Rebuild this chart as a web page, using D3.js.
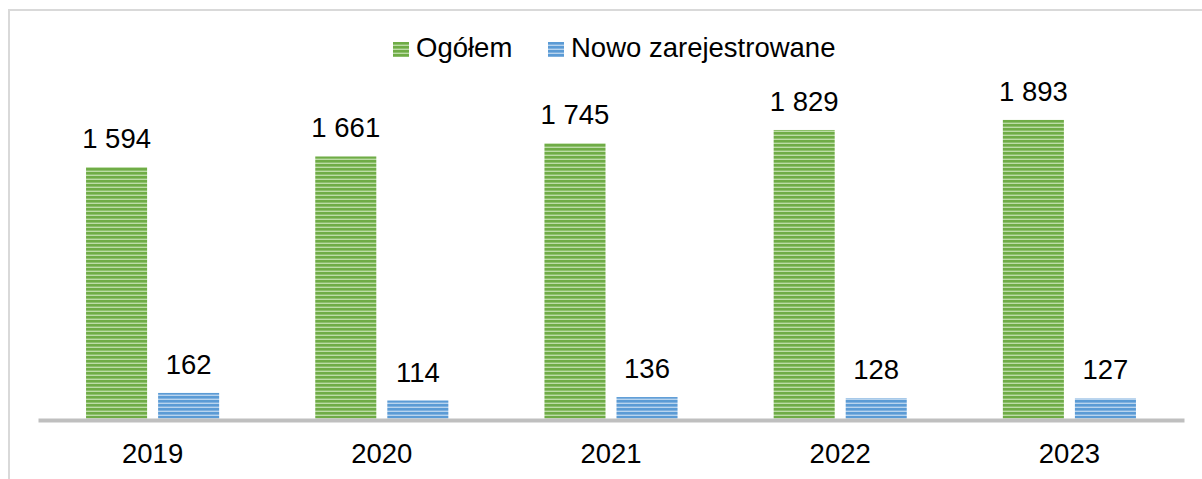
<!DOCTYPE html>
<html>
<head>
<meta charset="utf-8">
<script src="https://cdn.jsdelivr.net/npm/d3@7"></script>
<style>
  body { margin: 0; background: #fff; }
  svg { display: block; font-family: "Liberation Sans", Arial, sans-serif; }
</style>
</head>
<body>
<div id="chart"><svg></svg></div>
<script>
(function() {

  const years = ['2019', '2020', '2021', '2022', '2023'];
  const seriesNames = ['Ogółem', 'Nowo zarejestrowane'];
  const totalValues = [1594, 1661, 1745, 1829, 1893];
  const newValues = [162, 114, 136, 128, 127];
  const seriesColors = [
    { dark: '#6fac46', light: '#bcdca6' },
    { dark: '#5b9bd5', light: '#b8d4ee' }
  ];

  const width = 1202;
  const height = 479;
  const baseline = 418.5;
  const fontSize = 27.5;

  const rows = years.map(function(y, i) {
    return { year: y, values: [totalValues[i], newValues[i]] };
  });

  const fmt = d3.formatLocale({ decimal: ',', thousands: ' ', grouping: [3], currency: ['', ' zł'] }).format(',d');

  const svg = d3.select('#chart svg')
    .attr('width', width)
    .attr('height', height);

  // striped fills
  const defs = svg.append('defs');
  seriesColors.forEach(function(c, i) {
    const p = defs.append('pattern')
      .attr('id', 'stripe' + i)
      .attr('patternUnits', 'userSpaceOnUse')
      .attr('width', 4)
      .attr('height', 4);
    p.append('rect').attr('width', 4).attr('height', 4).attr('fill', c.light);
    p.append('rect').attr('width', 4).attr('height', 2.6).attr('fill', c.dark);
  });

  // chart frame (runs off the right and bottom)
  svg.append('rect')
    .attr('x', 9)
    .attr('y', 10)
    .attr('width', 1300)
    .attr('height', 600)
    .attr('fill', 'none')
    .attr('stroke', '#d9d9d9')
    .attr('stroke-width', 2);

  const x0 = d3.scaleBand().domain(years).range([38, 1184]);
  const x1 = d3.scaleBand().domain([0, 1])
    .range([0, x0.bandwidth()])
    .paddingInner(11 / 72)
    .paddingOuter(0.667);
  const y = d3.scaleLinear().domain([0, 2000]).range([baseline, 103]);

  const groups = svg.append('g').attr('class', 'bars')
    .selectAll('g')
    .data(rows)
    .enter()
    .append('g')
    .attr('transform', function(d) {
      return 'translate(' + x0(d.year) + ',0)';
    });

  const cells = groups.selectAll('g')
    .data(function(d) {
      return d.values.map(function(v, i) { return { s: i, value: v }; });
    })
    .enter()
    .append('g');

  cells.append('rect')
    .attr('x', function(d) { return x1(d.s); })
    .attr('y', function(d) { return y(d.value); })
    .attr('width', x1.bandwidth())
    .attr('height', function(d) { return baseline - y(d.value); })
    .attr('fill', function(d) { return 'url(#stripe' + d.s + ')'; });

  cells.append('text')
    .attr('x', function(d) { return x1(d.s) + x1.bandwidth() / 2; })
    .attr('y', function(d) { return y(d.value) - 19; })
    .attr('text-anchor', 'middle')
    .style('font-size', fontSize + 'px')
    .attr('fill', '#000')
    .text(function(d) { return fmt(d.value); });

  const xAxis = d3.axisBottom(x0).tickSize(0).tickSizeOuter(0);
  const axisG = svg.append('g')
    .attr('class', 'x axis')
    .attr('transform', 'translate(0,420)')
    .call(xAxis);
  axisG.select('.domain').attr('stroke', '#bfbfbf').attr('stroke-width', 4);
  axisG.selectAll('text')
    .attr('dy', null)
    .attr('y', 43)
    .attr('fill', '#000')
    .style('font-size', fontSize + 'px')
    .style('font-family', '"Liberation Sans", Arial, sans-serif');

  // legend
  const legendX = [393, 548];
  const legend = svg.append('g').attr('class', 'legend')
    .selectAll('g')
    .data(seriesNames)
    .enter()
    .append('g')
    .attr('transform', function(d, i) {
      return 'translate(' + legendX[i] + ',42)';
    });
  legend.append('rect')
    .attr('width', 16)
    .attr('height', 15)
    .attr('fill', function(d, i) { return 'url(#stripe' + i + ')'; });
  legend.append('text')
    .attr('x', 23)
    .attr('y', 15)
    .style('font-size', fontSize + 'px')
    .attr('fill', '#000')
    .text(function(d) { return d; });

})();
</script>
</body>
</html>
